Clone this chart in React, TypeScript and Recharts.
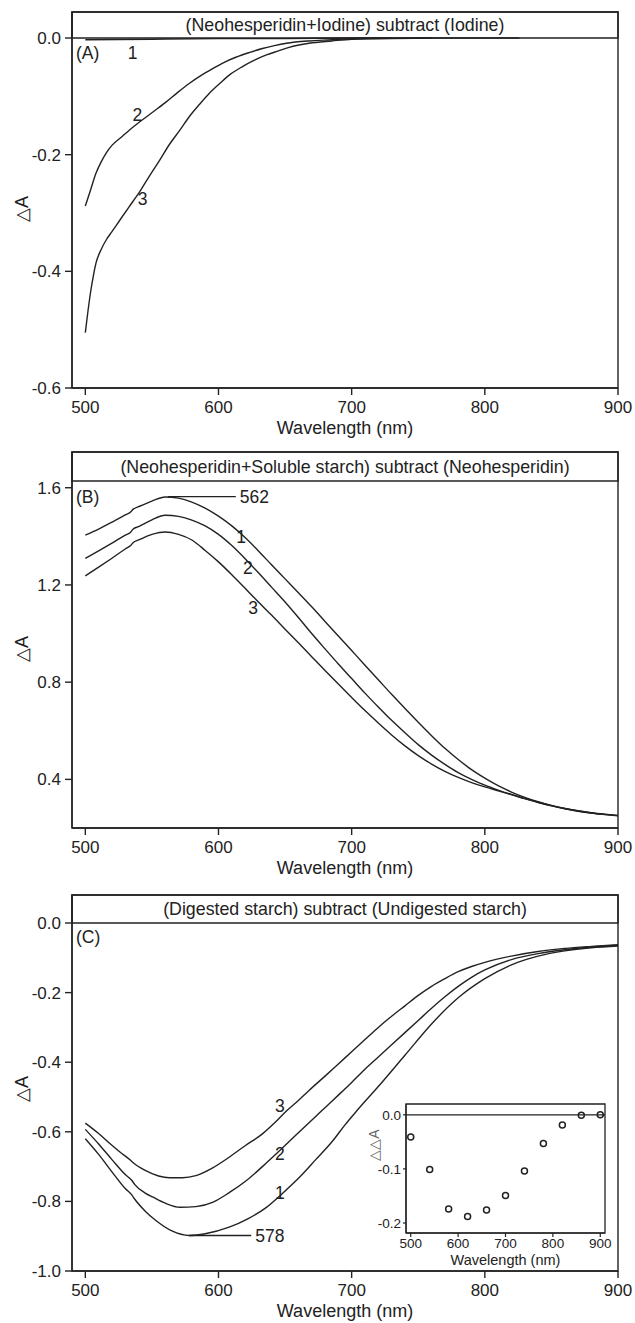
import React from 'react';
import {
  LineChart, Line, XAxis, YAxis, ReferenceArea, ReferenceLine, ReferenceDot,
  ScatterChart, Scatter,
} from 'recharts';

const INK = '#222';
const FONT = '"Liberation Sans", Arial, Helvetica, sans-serif';

// shared wavelength ticks
const wlTicks = [500, 600, 700, 800, 900];

// ---- panel A: (Neohesperidin+Iodine) subtract (Iodine)
const aTicks = [0, -0.2, -0.4, -0.6];
const aWl1 = [500, 550, 600, 650, 700, 760, 826];
const aD1 = [-0.003, -0.002, -0.001, -0.001, 0, 0, 0];
const aWl2 = [500, 504, 508, 512, 516, 520, 527, 533, 539, 546, 553, 561, 569, 578, 587, 596, 604, 613, 623, 633, 642, 651, 668, 685, 700, 730];
const aD2 = [-0.288, -0.26, -0.232, -0.212, -0.196, -0.184, -0.17, -0.158, -0.147, -0.135, -0.123, -0.109, -0.094, -0.078, -0.064, -0.052, -0.042, -0.033, -0.025, -0.018, -0.013, -0.009, -0.005, -0.003, -0.001, 0];
const aWl3 = [500, 502, 504, 506, 508, 512, 516, 520, 526, 533, 541, 548, 556, 563, 571, 578, 586, 593, 601, 609, 618, 627, 636, 645, 653, 668, 685, 700, 730, 760];
const aD3 = [-0.505, -0.468, -0.435, -0.408, -0.386, -0.362, -0.345, -0.332, -0.312, -0.289, -0.263, -0.237, -0.209, -0.183, -0.158, -0.135, -0.113, -0.095, -0.078, -0.062, -0.049, -0.038, -0.029, -0.022, -0.016, -0.009, -0.005, -0.002, -0.001, 0];

// ---- panel B: (Neohesperidin+Soluble starch) subtract (Neohesperidin)
const bTicks = [0.4, 0.8, 1.2, 1.6];
const bWl = [500, 510, 520, 530, 534, 536, 540, 550, 560, 570, 580, 590, 600, 610, 620, 630, 640, 650, 660, 670, 680, 690, 700, 710, 720, 730, 740, 750, 760, 770, 780, 790, 800, 810, 820, 830, 840, 850, 860, 870, 880, 890, 900];
const bD1 = [1.405, 1.43, 1.458, 1.488, 1.5, 1.512, 1.522, 1.545, 1.562, 1.557, 1.541, 1.516, 1.483, 1.443, 1.395, 1.34, 1.282, 1.225, 1.168, 1.11, 1.05, 0.99, 0.93, 0.87, 0.81, 0.75, 0.692, 0.635, 0.58, 0.528, 0.482, 0.44, 0.405, 0.374, 0.348, 0.326, 0.308, 0.293, 0.281, 0.271, 0.263, 0.257, 0.252];
const bD2 = [1.309, 1.34, 1.372, 1.405, 1.417, 1.43, 1.44, 1.468, 1.487, 1.482, 1.467, 1.443, 1.408, 1.362, 1.308, 1.25, 1.19, 1.13, 1.066, 1.0, 0.937, 0.875, 0.815, 0.755, 0.698, 0.643, 0.592, 0.543, 0.5, 0.462, 0.428, 0.4, 0.376, 0.356, 0.338, 0.321, 0.306, 0.292, 0.28, 0.27, 0.262, 0.256, 0.251];
const bD3 = [1.237, 1.273, 1.31, 1.348, 1.362, 1.375, 1.385, 1.408, 1.418, 1.408, 1.385, 1.342, 1.295, 1.242, 1.186, 1.13, 1.075, 1.018, 0.962, 0.905, 0.848, 0.792, 0.737, 0.683, 0.632, 0.583, 0.538, 0.498, 0.463, 0.433, 0.408, 0.387, 0.369, 0.353, 0.337, 0.321, 0.305, 0.291, 0.279, 0.269, 0.261, 0.255, 0.25];

// ---- panel C: (Digested starch) subtract (Undigested starch)
const cTicks = [0, -0.2, -0.4, -0.6, -0.8, -1.0];
const cWl1 = [500, 510, 520, 530, 535, 537, 545, 553, 565, 578, 590, 608, 622, 636, 648, 661, 673, 686, 695, 704, 720, 740, 760, 780, 800, 820, 840, 860, 880, 900];
const cD1 = [-0.62, -0.665, -0.715, -0.763, -0.782, -0.793, -0.828, -0.855, -0.885, -0.898, -0.893, -0.874, -0.85, -0.817, -0.777, -0.73, -0.68, -0.625, -0.58, -0.539, -0.47, -0.38, -0.29, -0.215, -0.16, -0.12, -0.095, -0.08, -0.071, -0.066];
const cWl2 = [500, 510, 520, 530, 535, 537, 545, 551, 560, 571, 583, 596, 608, 621, 633, 646, 658, 671, 681, 691, 700, 710, 720, 730, 740, 750, 760, 770, 780, 790, 800, 820, 840, 860, 880, 900];
const cD2 = [-0.593, -0.635, -0.68, -0.723, -0.74, -0.751, -0.776, -0.788, -0.805, -0.817, -0.815, -0.802, -0.775, -0.74, -0.7, -0.654, -0.61, -0.563, -0.527, -0.491, -0.458, -0.42, -0.385, -0.35, -0.315, -0.28, -0.245, -0.212, -0.182, -0.156, -0.135, -0.105, -0.088, -0.077, -0.069, -0.064];
const cWl3 = [500, 510, 518, 526, 534, 536, 545, 555, 563, 573, 583, 595, 608, 620, 633, 642, 651, 660, 668, 680, 690, 700, 710, 720, 730, 740, 750, 760, 770, 780, 790, 800, 820, 840, 860, 880, 900];
const cD3 = [-0.575, -0.605, -0.632, -0.658, -0.682, -0.689, -0.711, -0.727, -0.732, -0.732, -0.726, -0.705, -0.673, -0.64, -0.606, -0.575, -0.54, -0.51, -0.481, -0.44, -0.405, -0.37, -0.335, -0.3, -0.268, -0.238, -0.208, -0.182, -0.16, -0.14, -0.125, -0.113, -0.095, -0.082, -0.073, -0.067, -0.062];

// ---- inset of C: delta delta A
const insetWl = [500, 540, 580, 620, 660, 700, 740, 780, 820, 860, 900];
const insetDD = [-0.041, -0.101, -0.174, -0.188, -0.176, -0.149, -0.104, -0.053, -0.019, -0.001, 0.0];
const insetTicks = [0, -0.1, -0.2];

type Pt = { x: number; y: number };
const zip = (xs: number[], ys: number[]): Pt[] => xs.map((x, i) => ({ x, y: ys[i] }));

type Mark = { x: number; y: number; text: string };
type Lead = { x: number; y: number; x2: number; text: string };

interface PanelProps {
  top: number;
  height: number;
  padTop: number;
  yDomain: [number, number];
  yTicks: number[];
  boxBottom: number;
  title: string;
  tag: string;
  tagY: number;
  curves: Pt[][];
  marks: Mark[];
  lead?: Lead;
}

function Panel({ top, height, padTop, yDomain, yTicks, boxBottom, title, tag, tagY, curves, marks, lead }: PanelProps) {
  const tickStyle = { fill: INK, fontSize: 17 };
  return (
    <div style={{ position: 'absolute', left: 0, top }}>
      <LineChart width={635} height={height} margin={{ top: padTop, right: 17, bottom: 2, left: 0 }}>
        <XAxis
          dataKey="x"
          type="number"
          domain={[490, 900]}
          ticks={wlTicks}
          interval={0}
          allowDataOverflow
          height={50}
          tickSize={7}
          tickMargin={6}
          stroke={INK}
          strokeWidth={1.4}
          tick={tickStyle}
          label={{ value: 'Wavelength (nm)', position: 'insideBottom', offset: 4, fill: INK, fontSize: 18 }}
        />
        <YAxis
          type="number"
          domain={yDomain}
          ticks={yTicks}
          interval={0}
          allowDataOverflow
          width={72}
          tickSize={7}
          tickMargin={4}
          stroke={INK}
          strokeWidth={1.4}
          tick={tickStyle}
          tickFormatter={(v: number) => v.toFixed(1)}
        />
        <ReferenceArea x1={490} x2={900} y1={yDomain[0]} y2={yDomain[1]} fill="none" stroke={INK} strokeWidth={1.4} />
        <ReferenceArea
          x1={490}
          x2={900}
          y1={boxBottom}
          y2={yDomain[1]}
          fill="none"
          stroke={INK}
          strokeWidth={1.4}
          label={{ value: title, position: 'center', fill: INK, fontSize: 17.8 }}
        />
        {curves.map((c, i) => (
          <Line
            key={i}
            data={c}
            dataKey="y"
            type="monotone"
            stroke={INK}
            strokeWidth={1.4}
            dot={false}
            isAnimationActive={false}
          />
        ))}
        {marks.map((m) => (
          <ReferenceDot
            key={m.text}
            x={m.x}
            y={m.y}
            r={0}
            fill="none"
            stroke="none"
            label={{ value: m.text, position: 'center', fill: INK, fontSize: 17.5 }}
          />
        ))}
        {lead && (
          <ReferenceLine
            segment={[{ x: lead.x, y: lead.y }, { x: lead.x2, y: lead.y }]}
            stroke={INK}
            strokeWidth={1.3}
          />
        )}
        {lead && (
          <ReferenceDot
            x={lead.x2}
            y={lead.y}
            r={0}
            fill="none"
            stroke="none"
            label={{ value: lead.text, position: 'right', offset: 4, fill: INK, fontSize: 17.5 }}
          />
        )}
        <text x={76} y={tagY} fill={INK} fontSize={17.5} dominantBaseline="central">{tag}</text>
        <text
          x={22}
          y={209}
          fill={INK}
          fontSize={18}
          textAnchor="middle"
          dominantBaseline="central"
          transform={`rotate(-90 22 209)`}
        >
          △A
        </text>
      </LineChart>
    </div>
  );
}

function Inset() {
  return (
    <div style={{ position: 'absolute', left: 340, top: 1090 }}>
      <ScatterChart width={275} height={185} margin={{ top: 14, right: 10, bottom: 2, left: 26 }}>
        <XAxis
          dataKey="x"
          type="number"
          domain={[490, 910]}
          ticks={wlTicks}
          interval={0}
          allowDataOverflow
          height={40}
          tickSize={4}
          tickMargin={1}
          stroke={INK}
          strokeWidth={1.2}
          tick={{ fill: INK, fontSize: 13.5 }}
          label={{ value: 'Wavelength (nm)', position: 'insideBottom', offset: 8, fill: INK, fontSize: 14.5 }}
        />
        <YAxis
          dataKey="y"
          type="number"
          domain={[-0.2185, 0.02]}
          ticks={insetTicks}
          interval={0}
          allowDataOverflow
          width={40}
          tickSize={3}
          tickMargin={2}
          stroke={INK}
          strokeWidth={1.2}
          tick={{ fill: INK, fontSize: 13.5 }}
          tickFormatter={(v: number) => v.toFixed(1)}
        />
        <ReferenceArea x1={490} x2={910} y1={-0.2185} y2={0.02} fill="none" stroke={INK} strokeWidth={1.3} />
        <ReferenceLine y={0} stroke={INK} strokeWidth={1.3} />
        <Scatter
          data={zip(insetWl, insetDD)}
          isAnimationActive={false}
          shape={(p: any) => <circle cx={p.cx} cy={p.cy} r={3} fill="none" stroke={INK} strokeWidth={1.5} />}
        />
        <text
          x={34}
          y={55}
          fill="#666"
          fontSize={14}
          textAnchor="middle"
          dominantBaseline="central"
          transform="rotate(-90 34 55)"
        >
          △△A
        </text>
      </ScatterChart>
    </div>
  );
}

export default function App() {
  return (
    <div style={{ position: 'absolute', left: 0, top: 0, width: 635, height: 1323, background: '#fff', fontFamily: FONT }}>
      <Panel
        top={0}
        height={440}
        padTop={12}
        yDomain={[-0.6, 0.0446]}
        yTicks={aTicks}
        boxBottom={0}
        title="(Neohesperidin+Iodine) subtract (Iodine)"
        tag="(A)"
        tagY={53}
        curves={[zip(aWl1, aD1), zip(aWl2, aD2), zip(aWl3, aD3)]}
        marks={[
          { x: 535.6, y: -0.025, text: '1' },
          { x: 539, y: -0.132, text: '2' },
          { x: 543, y: -0.275, text: '3' },
        ]}
      />
      <Panel
        top={440}
        height={440}
        padTop={12}
        yDomain={[0.2, 1.747]}
        yTicks={bTicks}
        boxBottom={1.6276}
        title="(Neohesperidin+Soluble starch) subtract (Neohesperidin)"
        tag="(B)"
        tagY={57}
        curves={[zip(bWl, bD1), zip(bWl, bD2), zip(bWl, bD3)]}
        marks={[
          { x: 617, y: 1.398, text: '1' },
          { x: 622, y: 1.272, text: '2' },
          { x: 626, y: 1.104, text: '3' },
        ]}
        lead={{ x: 562, y: 1.563, x2: 613, text: '562' }}
      />
      <Panel
        top={880}
        height={443}
        padTop={15}
        yDomain={[-1.0, 0.0805]}
        yTicks={cTicks}
        boxBottom={0}
        title="(Digested starch) subtract (Undigested starch)"
        tag="(C)"
        tagY={57}
        curves={[zip(cWl1, cD1), zip(cWl2, cD2), zip(cWl3, cD3)]}
        marks={[
          { x: 646, y: -0.524, text: '3' },
          { x: 646, y: -0.663, text: '2' },
          { x: 646, y: -0.774, text: '1' },
        ]}
        lead={{ x: 578, y: -0.898, x2: 624.6, text: '578' }}
      />
      <Inset />
    </div>
  );
}
